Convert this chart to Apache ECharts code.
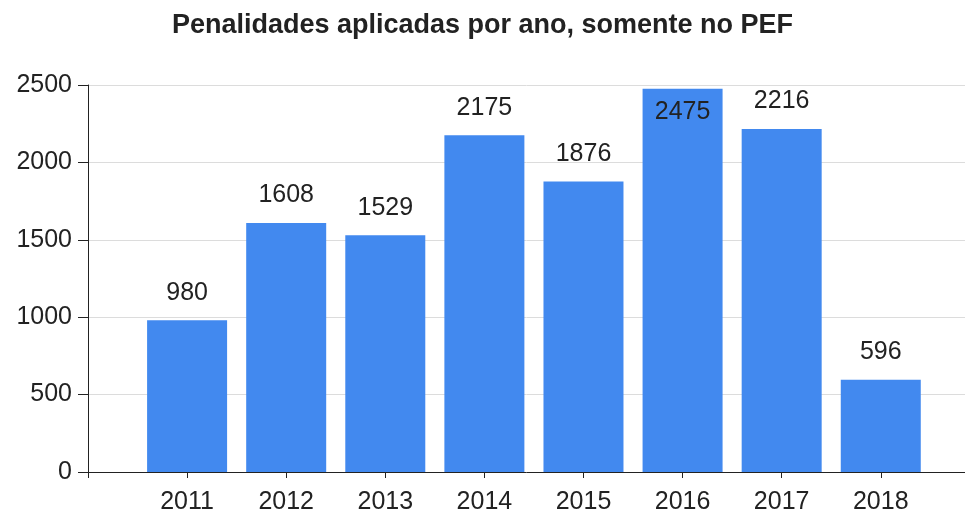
<!DOCTYPE html>
<html>
<head>
<meta charset="utf-8">
<script src="https://cdn.jsdelivr.net/npm/echarts@6/dist/echarts.min.js"></script>
<style>
  html, body { margin: 0; padding: 0; background: #fff; }
  #chart { width: 965px; height: 515px; }
</style>
</head>
<body>
<div id="chart"></div>
<script>
"use strict";

// dados
const anos = [2011, 2012, 2013, 2014, 2015, 2016, 2017, 2018];
const penalidades = [980, 1608, 1529, 2175, 1876, 2475, 2216, 596];
const yTicks = [0, 500, 1000, 1500, 2000, 2500];

const yMax = yTicks[yTicks.length - 1];
const fonte = 'Liberation Sans, Arial, sans-serif';

// rótulo vai para dentro da barra quando não cabe em cima
const dados = anos.map(function (ano, i) {
  const item = { value: [ano, penalidades[i]] };
  if (penalidades[i] / yMax > 0.95) {
    item.label = { position: 'insideTop', distance: 11 };
  }
  return item;
});

var chartElem = document.getElementById('chart');
var chart = echarts.init(chartElem);
chart.setOption({
  animation: false,
  title: {
    text: 'Penalidades aplicadas por ano, somente no PEF',
    left: 'center',
    top: 7,
    textStyle: {
      fontFamily: fonte,
      fontSize: 27,
      fontWeight: 'bold',
      color: '#222'
    }
  },
  grid: {
    left: 88,
    right: 0,
    top: 85,
    bottom: 42
  },
  xAxis: {
    type: 'value',
    min: anos[0] - 1,
    max: anos[anos.length - 1] + 0.85,
    interval: 1,
    axisLine: { show: true, onZero: false, lineStyle: { color: '#222', width: 1 } },
    axisTick: {
      show: true,
      length: 6,
      customValues: [anos[0] - 1].concat(anos),
      lineStyle: { color: '#222' }
    },
    splitLine: { show: false },
    axisLabel: {
      margin: 18,
      fontFamily: fonte,
      fontSize: 25,
      color: '#222',
      customValues: anos,
      formatter: function (v) { return String(v); }
    }
  },
  yAxis: {
    type: 'value',
    min: yTicks[0],
    max: yMax,
    interval: yTicks[1] - yTicks[0],
    axisLine: { show: true, lineStyle: { color: '#222', width: 1 } },
    axisTick: { show: true, length: 10, lineStyle: { color: '#222' } },
    splitLine: { show: true, lineStyle: { color: '#dcdcdc', width: 1 } },
    axisLabel: {
      margin: 16,
      fontFamily: fonte,
      fontSize: 25,
      color: '#222',
      formatter: function (v) { return String(v); }
    }
  },
  series: [{
    type: 'bar',
    data: dados,
    barWidth: 80,
    itemStyle: { color: '#4289ef' },
    label: {
      show: true,
      position: 'top',
      distance: 15,
      fontFamily: fonte,
      fontSize: 25,
      color: '#222',
      formatter: function (p) { return p.value[1]; }
    }
  }]
});

window.addEventListener('resize', function () {
  chart.resize();
});
</script>
</body>
</html>
